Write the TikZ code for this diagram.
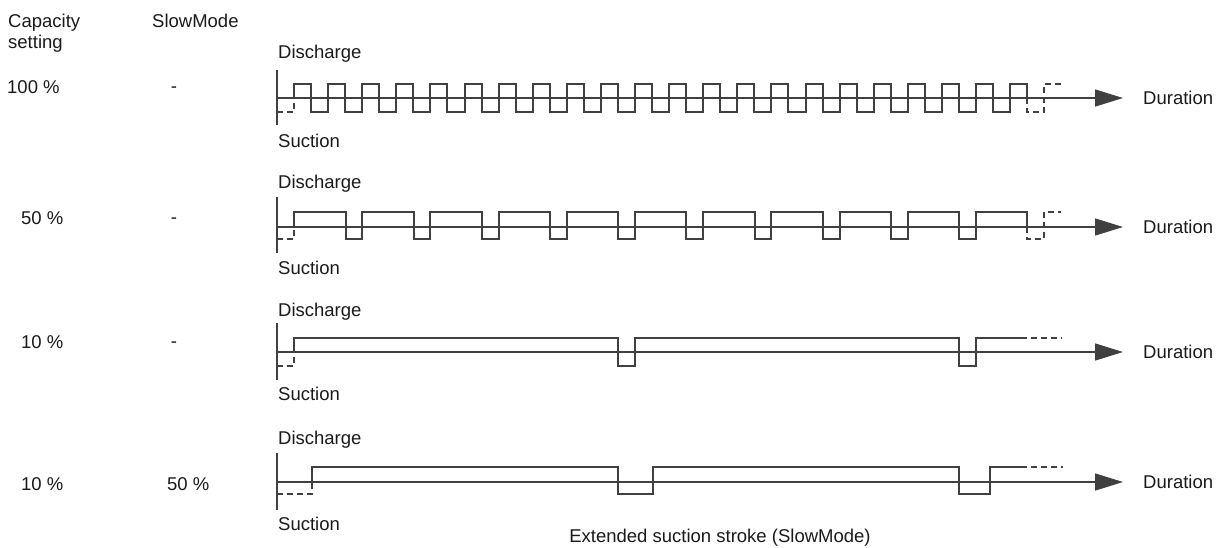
\documentclass[tikz,border=0pt]{standalone}
\usepackage{fontspec}
\setmainfont{Liberation Sans}
\usetikzlibrary{arrows.meta}
\definecolor{ln}{HTML}{404040}
\definecolor{txt}{HTML}{1A1A1A}
\begin{document}
\begin{tikzpicture}[x=1pt,y=-1pt,
  lbl/.style={font=\fontsize{18.5}{21}\selectfont, text=txt, inner sep=0pt, anchor=base west},
  ctr/.style={font=\fontsize{18.5}{21}\selectfont, text=txt, inner sep=0pt, anchor=base},
  wave/.style={draw=ln, line width=1.4pt, line join=miter},
  dwave/.style={draw=ln, line width=1.2pt, dash pattern=on 6pt off 4pt},
  axisline/.style={draw=ln, line width=1.4pt},
  durarrow/.style={draw=ln, line width=1.4pt, -{Triangle[length=28pt,width=17pt,fill=ln]}}]
\useasboundingbox (0,0) rectangle (1223,547);

% column headers
\node[lbl] (cap1) at (8,27) {Capacity};
\node[lbl] (cap2) at (8,48) {setting};
\node[lbl] (slow) at (152,27) {SlowMode};

% row labels
\node[lbl] (c1) at (7,93) {100 \%};
\node[ctr] (s1) at (174,92) {-};
\node[lbl] (c2) at (21,224) {50 \%};
\node[ctr] (s2) at (174,223) {-};
\node[lbl] (c3) at (21,348) {10 \%};
\node[ctr] (s3) at (174,347) {-};
\node[lbl] (c4) at (21,490) {10 \%};
\node[lbl] (s4) at (167,490) {50 \%};

% Discharge / Suction / Duration labels
\node[lbl] (d1) at (278,58) {Discharge};
\node[lbl] (u1) at (278,147) {Suction};
\node[lbl] (t1) at (1143,104.5) {Duration};
\node[lbl] (d2) at (278,188) {Discharge};
\node[lbl] (u2) at (278,274) {Suction};
\node[lbl] (t2) at (1143,233) {Duration};
\node[lbl] (d3) at (278,316) {Discharge};
\node[lbl] (u3) at (278,400) {Suction};
\node[lbl] (t3) at (1143,358.5) {Duration};
\node[lbl] (d4) at (278,444) {Discharge};
\node[lbl] (u4) at (278,530) {Suction};
\node[lbl] (t4) at (1143,488.5) {Duration};
\node[ctr] (ext) at (720,542) {Extended suction stroke (SlowMode)};

% axes coordinates
\coordinate (h1s) at (277,98);  \coordinate (h1e) at (1123,98);
\coordinate (v1t) at (277,70);  \coordinate (v1b) at (277,125);
\coordinate (h2s) at (277,227); \coordinate (h2e) at (1123,227);
\coordinate (v2t) at (277,197); \coordinate (v2b) at (277,253);
\coordinate (h3s) at (277,352); \coordinate (h3e) at (1123,352);
\coordinate (v3t) at (277,323); \coordinate (v3b) at (277,380);
\coordinate (h4s) at (277,482); \coordinate (h4e) at (1123,482);
\coordinate (v4t) at (277,453); \coordinate (v4b) at (277,510);

\foreach \i in {1,2,3,4}{
  \draw[axisline] (v\i t) -- (v\i b);
  \draw[durarrow] (h\i s) -- (h\i e);
}

% Row 1: 100 %
\draw[dwave] (277,112) -- (294,112) -- (294,98);
\draw[wave] (294,98) -- (294,84)
  \foreach \k in {0,...,20}{ -- ({round(294+34.1*\k+17.05)},84) -- ++(0,28) -- ({round(294+34.1*(\k+1))},112) -- ++(0,-28) }
  -- (1027,84) -- (1027,98);
\draw[dwave] (1027,98) -- (1027,112) -- (1044,112) -- (1044,84) -- (1061,84);

% Row 2: 50 %
\draw[dwave] (277,239) -- (294,239) -- (294,227);
\draw[wave] (294,227) -- (294,212)
  \foreach \k in {0,...,9}{ -- ({round(294+68.2*\k+51.5)},212) -- ++(0,27) -- ({round(294+68.2*(\k+1))},239) -- ++(0,-27) }
  -- (1027,212) -- (1027,227);
\draw[dwave] (1027,227) -- (1027,239) -- (1044,239) -- (1044,212) -- (1061,212);

% Row 3: 10 %
\draw[dwave] (277,366) -- (294,366) -- (294,352);
\draw[wave] (294,352) -- (294,338) -- (618,338) -- (618,366) -- (635,366) -- (635,338)
  -- (959,338) -- (959,366) -- (976,366) -- (976,338) -- (1027,338);
\draw[dwave] (1031,338) -- (1062,338);

% Row 4: 10 %, SlowMode 50 %
\draw[dwave] (277,494) -- (312,494) -- (312,482);
\draw[wave] (312,482) -- (312,467) -- (618,467) -- (618,494) -- (653,494) -- (653,467)
  -- (959,467) -- (959,494) -- (990,494) -- (990,467) -- (1027,467);
\draw[dwave] (1031,467) -- (1063,467);
\end{tikzpicture}
\end{document}
